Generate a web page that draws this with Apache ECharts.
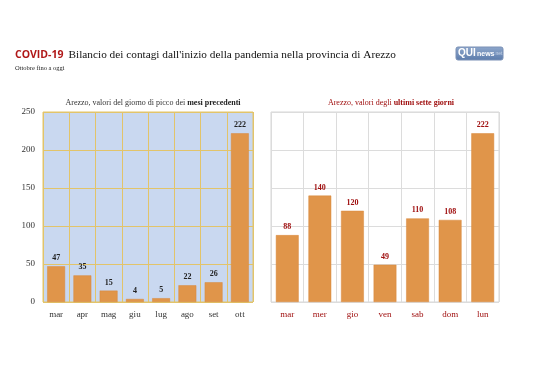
<!DOCTYPE html>
<html><head><meta charset="utf-8">
<script src="https://cdn.jsdelivr.net/npm/echarts@6/dist/echarts.min.js"></script>
<style>html,body{margin:0;padding:0;background:#fff}#c{width:538px;height:380px}</style>
</head><body><div id="c"></div>
<script>
const monthCats = ['mar','apr','mag','giu','lug','ago','set','ott'];
const monthVals = [47,35,15,4,5,22,26,222];
const dayCats = ['mar','mer','gio','ven','sab','dom','lun'];
const dayVals = [88,140,120,49,110,108,222];
const yTicks = [0,50,100,150,200,250];

const serif = '"Liberation Serif", "DejaVu Serif", serif';
const barColor = '#e0954a';
const chart = echarts.init(document.getElementById('c'));
chart.setOption({
  backgroundColor: '#fff',
  animation: false,
  title: [
    {left: 10, top: 41, text: '{a|COVID-19} {b|Bilancio dei contagi dall\'inizio della pandemia nella provincia di Arezzo}',
     textStyle: {fontWeight: 'normal', rich: {a: {fontFamily: '"Open Sans", "Liberation Sans", sans-serif', fontWeight: 'bold', fontSize: 10.5, color: '#b01818'},
       b: {fontFamily: serif, fontWeight: 'normal', fontSize: 11.3, color: '#111'}}}},
    {left: 10, top: 60, text: 'Ottobre fino a oggi', textStyle: {fontFamily: serif, fontSize: 6.5, fontWeight: 'normal', color: '#222'}},
    {left: 148, textAlign: 'center', top: 94, text: '{n|Arezzo, valori del giorno di picco dei }{b|mesi precedenti}',
     textStyle: {fontWeight: 'normal', rich: {n: {fontFamily: serif, fontSize: 8, fontWeight: 'normal', color: '#333'}, b: {fontFamily: serif, fontSize: 8, fontWeight: 'bold', color: '#222'}}}},
    {left: 386, textAlign: 'center', top: 94, text: '{n|Arezzo, valori degli }{b|ultimi sette giorni}',
     textStyle: {fontWeight: 'normal', rich: {n: {fontFamily: serif, fontSize: 8, fontWeight: 'normal', color: '#a01010'}, b: {fontFamily: serif, fontSize: 8, fontWeight: 'bold', color: '#a01010'}}}}
  ],
  graphic: [
    {type: 'rect', shape: {x: 456, y: 47, width: 47, height: 13, r: 2}, style: {fill: new echarts.graphic.LinearGradient(0,0,0,1,[{offset:0,color:'#8fa8cc'},{offset:1,color:'#5b7bab'}]), stroke: '#7a90b5'}},
    {type: 'text', x: 458, y: 48.5, style: {text: 'QUI', fontFamily: '"Liberation Sans", sans-serif', fontWeight: 'bold', fontSize: 10, fill: '#fff'}},
    {type: 'text', x: 477, y: 50.5, style: {text: 'news', fontFamily: '"Liberation Sans", sans-serif', fontWeight: 'bold', fontSize: 7, fill: '#fff'}},
    {type: 'text', x: 494, y: 51.5, style: {text: '.net', fontFamily: '"Liberation Sans", sans-serif', fontSize: 5, fill: '#c8d4e8'}}
  ],
  grid: [
    {left: 43, right: 285, top: 112, bottom: 78, show: true, backgroundColor: '#c9d8f0', borderColor: '#e2c46a', borderWidth: 1},
    {left: 271, right: 39, top: 112, bottom: 78, show: true, backgroundColor: '#fff', borderColor: '#d6d6d6', borderWidth: 1}
  ],
  xAxis: [
    {type: 'category', gridIndex: 0, data: monthCats, axisLine: {show: false}, axisTick: {show: false},
     splitLine: {show: true, lineStyle: {color: '#e2c46a', width: 1}},
     axisLabel: {fontFamily: serif, fontSize: 9, color: '#333', margin: 8}},
    {type: 'category', gridIndex: 1, data: dayCats, axisLine: {show: false}, axisTick: {show: false},
     splitLine: {show: true, lineStyle: {color: '#dcdcdc', width: 1}},
     axisLabel: {fontFamily: serif, fontSize: 9, color: '#a01010', margin: 8}}
  ],
  yAxis: [
    {type: 'value', gridIndex: 0, min: yTicks[0], max: yTicks[yTicks.length-1], interval: 50,
     axisLine: {show: false}, axisTick: {show: false},
     splitLine: {show: true, lineStyle: {color: '#e2c46a', width: 1}},
     axisLabel: {fontFamily: serif, fontSize: 9, color: '#333', margin: 8}},
    {type: 'value', gridIndex: 1, min: yTicks[0], max: yTicks[yTicks.length-1], interval: 50,
     axisLine: {show: false}, axisTick: {show: false},
     splitLine: {show: true, lineStyle: {color: '#dcdcdc', width: 1}},
     axisLabel: {show: false}}
  ],
  series: [
    {type: 'bar', xAxisIndex: 0, yAxisIndex: 0, data: monthVals, barWidth: '68%',
     itemStyle: {color: barColor, borderColor: '#d8893c', borderWidth: 0.5},
     label: {show: true, position: 'top', distance: 4, fontFamily: serif, fontSize: 8, fontWeight: 'bold', color: '#222'}},
    {type: 'bar', xAxisIndex: 1, yAxisIndex: 1, data: dayVals, barWidth: '70%',
     itemStyle: {color: barColor, borderColor: '#d8893c', borderWidth: 0.5},
     label: {show: true, position: 'top', distance: 4, fontFamily: serif, fontSize: 8, fontWeight: 'bold', color: '#a01010'}}
  ]
});
</script></body></html>
